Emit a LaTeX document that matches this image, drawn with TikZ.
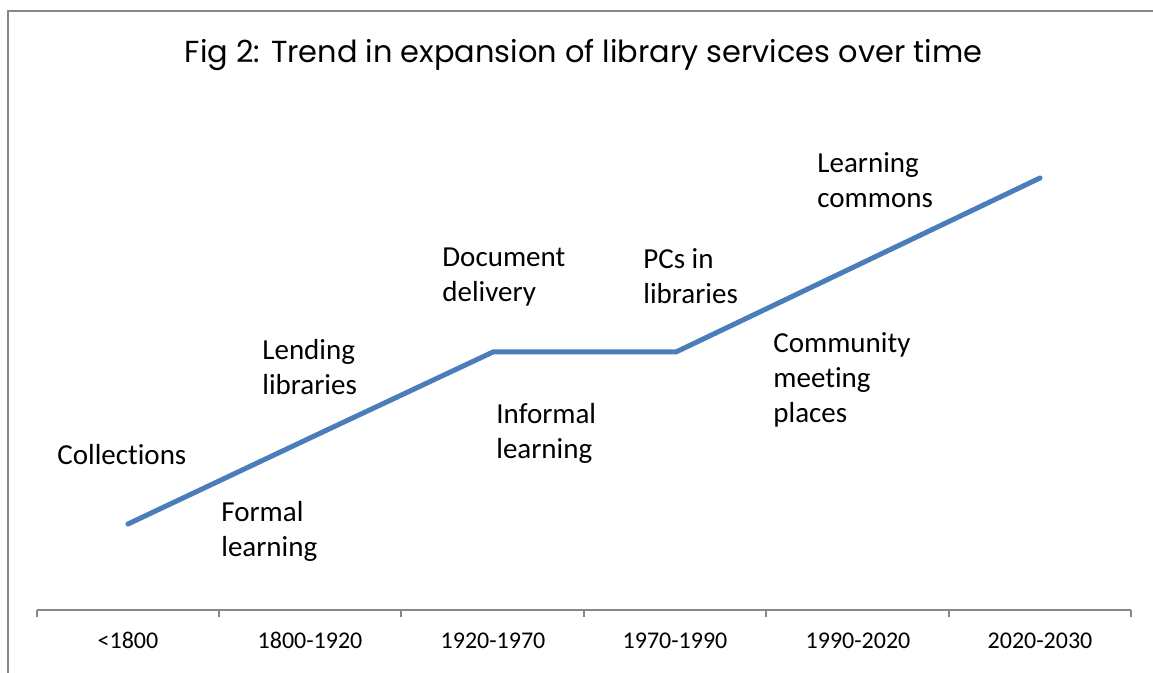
\documentclass[tikz,border=0pt]{standalone}
\usepackage{fontspec}
\setmainfont{Carlito}[Ligatures=NoCommon]
\newfontfamily\titlefont{Poppins}
\definecolor{serieblue}{HTML}{4A7EBB}
\definecolor{axisgray}{HTML}{868686}
\begin{document}
\begin{tikzpicture}[x=0.5pt,y=-0.5pt,
  lbl/.style={anchor=base west, inner sep=0pt, align=left, font=\fontsize{14.5}{17.5}\selectfont},
  axlbl/.style={anchor=base, inner sep=0pt, font=\fontsize{12}{14}\selectfont},
  frame/.style={draw=axisgray, line width=0.75pt},
  series/.style={draw=serieblue, line width=2.5pt, line cap=round, line join=round}]
\useasboundingbox (0,0) rectangle (1153,673);
\draw[frame] (8,673) -- (8,11) -- (1153,11);
\node[anchor=base, inner sep=0pt, font=\titlefont\fontsize{15.2}{18}\selectfont] (title) at (583.5,63) {Fig 2: Trend in expansion of library services over time};
% axis
\foreach \i/\x in {0/37,1/219,2/401,3/584,4/766,5/949,6/1131} {
  \coordinate (a\i) at (\x,610);
  \coordinate (t\i) at (\x,617);
}
\draw[frame] (a0) -- (a6);
\foreach \i in {0,...,6} { \draw[frame] (a\i) -- (t\i); }
\node[axlbl] (c1) at (128,649) {<1800};
\node[axlbl] (c2) at (310,649) {1800-1920};
\node[axlbl] (c3) at (493,649) {1920-1970};
\node[axlbl] (c4) at (675,649) {1970-1990};
\node[axlbl] (c5) at (858,649) {1990-2020};
\node[axlbl] (c6) at (1040,649) {2020-2030};
% series
\coordinate (p1) at (128,524);
\coordinate (p2) at (310,438);
\coordinate (p3) at (493,352);
\coordinate (p4) at (676,352);
\coordinate (p5) at (858,265);
\coordinate (p6) at (1040,178);
\draw[series] (p1) -- (p2) -- (p3) -- (p4) -- (p5) -- (p6);
% labels (anchor at baseline of last line)
\node[lbl] (collections) at (57,465) {Collections};
\node[lbl] (formal) at (221,557) {Formal\\learning};
\node[lbl] (lending) at (262,395) {Lending\\libraries};
\node[lbl] (document) at (442,302) {Document\\delivery};
\node[lbl] (informal) at (496,459) {Informal\\learning};
\node[lbl] (pcs) at (643,304) {PCs in\\libraries};
\node[lbl] (commons) at (817,208) {Learning\\commons};
\node[lbl] (community) at (773,423) {Community\\meeting\\places};
\end{tikzpicture}
\end{document}
